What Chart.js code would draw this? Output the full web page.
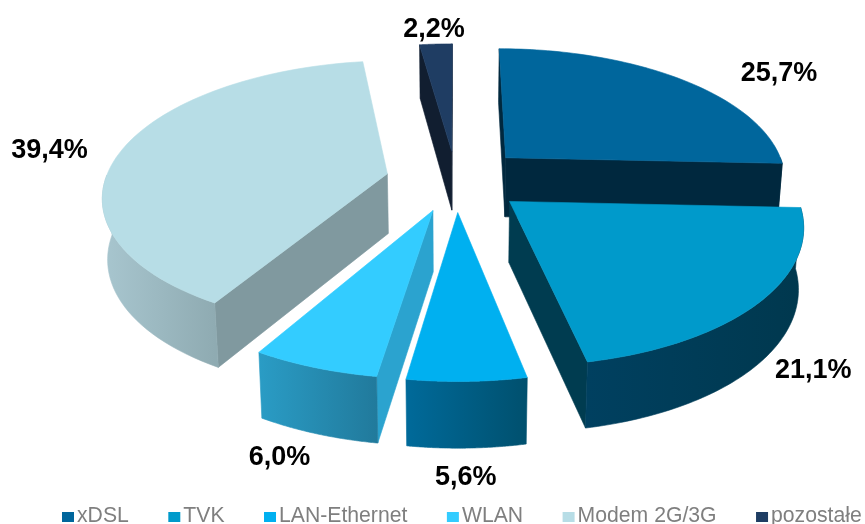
<!DOCTYPE html>
<html lang="pl">
<head>
<meta charset="utf-8">
<style>html,body{margin:0;padding:0;background:#fff}canvas{display:block}</style>
<script src="https://cdn.jsdelivr.net/npm/chart.js@4"></script>
</head>
<body>
<canvas id="c" width="865" height="524"></canvas>
<script>
const categories = ['xDSL', 'TVK', 'LAN-Ethernet', 'WLAN', 'Modem 2G/3G', 'pozostałe'];
const shares = [25.7, 21.1, 5.6, 6.0, 39.4, 2.2];
const valueLabels = ['25,7%', '21,1%', '5,6%', '6,0%', '39,4%', '2,2%'];

const topColors = ['#00669C', '#009ACB', '#00B0F0', '#33CCFF', '#B7DDE6', '#1F3D63'];
const cutColors = ['#00283E', '#003C50', '#004A66', '#2BA3CF', '#80999F', '#111E30'];
const rimLeft = ['#00283E', '#004060', '#006A9A', '#2A9CC5', '#A8C6CF', '#111E30'];
const rimRight = ['#00283E', '#00384E', '#00506E', '#217A9C', '#8FABB2', '#111E30'];
const sliceOffsets = [40, 39, 38, 38, 40, 36];
const labelShift = [[98, -6], [53, 69], [-1, 96], [-35, 90], [-73, 1], [-2, -15]];
const paintOrder = [5, 0, 4, 1, 3, 2];

const view = {halfWidth: 282, halfDepth: 132, persp: 0.153, height: 60, heightGrow: 0.09, taper: 0.015};
const canvas = document.getElementById('c');

function project(el, U, V, lower) {
  const w = 1 / (1 - view.persp * V);
  let x = view.halfWidth * U * w;
  let y = el.y + view.halfDepth * V * w;
  if (lower) {
    x *= 1 - view.taper;
    y += view.height * (1 + view.heightGrow * V);
  }
  return [el.x + x, y];
}
function slicePoint(el, angle, radius) {
  const R = el.outerRadius;
  const mid = (el.startAngle + el.endAngle) / 2;
  const off = el.options.offset / R;
  return [off * Math.cos(mid) + radius * Math.cos(angle), off * Math.sin(mid) + radius * Math.sin(angle)];
}
function poly(ctx, pts, fill) {
  ctx.beginPath();
  pts.forEach((p, i) => i ? ctx.lineTo(p[0], p[1]) : ctx.moveTo(p[0], p[1]));
  ctx.closePath();
  ctx.fillStyle = fill;
  ctx.strokeStyle = fill;
  ctx.lineWidth = 0.6;
  ctx.fill();
  ctx.stroke();
}
const pie3d = {
  id: 'pie3d',
  beforeDatasetsDraw(chart) {
    const ctx = chart.ctx;
    const arcs = chart.getDatasetMeta(0).data;
    paintOrder.forEach(i => {
      const el = arcs[i];
      const P = (a, r, low) => { const s = slicePoint(el, a, r); return project(el, s[0], s[1], low); };
      const steps = 72, rimT = [], rimB = [];
      for (let k = 0; k <= steps; k++) {
        const a = el.startAngle + (el.endAngle - el.startAngle) * k / steps;
        rimT.push(P(a, 1, false));
        rimB.push(P(a, 1, true));
      }
      const apexT = P(el.startAngle, 0, false), apexB = P(el.startAngle, 0, true);
      const cross = (t) => (t[0] - apexT[0]) * (apexB[1] - apexT[1]) - (t[1] - apexT[1]) * (apexB[0] - apexT[0]);
      // side faces
      if (cross(rimT[0]) < 0) poly(ctx, [apexT, rimT[0], rimB[0], apexB], cutColors[i]);
      if (cross(rimT[steps]) > 0) poly(ctx, [apexT, rimT[steps], rimB[steps], apexB], cutColors[i]);
      // outer wall
      const xs = rimT.map(p => p[0]);
      const front = [];
      for (let k = 0; k <= steps; k++) {
        const a = el.startAngle + (el.endAngle - el.startAngle) * k / steps;
        if (Math.sin(a) > -0.02) front.push(k);
      }
      if (front.length > 1) {
        const fx = front.map(k => xs[k]);
        const g = ctx.createLinearGradient(Math.min(...fx), 0, Math.max(...fx), 0);
        g.addColorStop(0, rimLeft[i]);
        g.addColorStop(1, rimRight[i]);
        poly(ctx, front.map(k => rimT[k]).concat(front.slice().reverse().map(k => rimB[k])), g);
      }
      // top face
      poly(ctx, [apexT].concat(rimT), topColors[i]);
    });
    // value labels
    ctx.font = 'bold 27px "Liberation Sans", Arial, sans-serif';
    ctx.fillStyle = '#000';
    ctx.textAlign = 'center';
    ctx.textBaseline = 'middle';
    arcs.forEach((el, i) => {
      const mid = (el.startAngle + el.endAngle) / 2;
      const s = slicePoint(el, mid, 1);
      const p = project(el, s[0], s[1], false);
      ctx.fillText(valueLabels[i], p[0] + labelShift[i][0], p[1] + labelShift[i][1]);
    });
    return false;
  },
  afterDraw(chart) {
    const ctx = chart.ctx;
    ctx.save();
    ctx.font = '21.2px "Liberation Sans", Arial, sans-serif';
    ctx.textAlign = 'left';
    ctx.textBaseline = 'alphabetic';
    let x = 62;
    categories.forEach((name, i) => {
      ctx.fillStyle = topColors[i];
      ctx.fillRect(x, 512, 12, 10);
      x += 15;
      ctx.fillStyle = '#7F7F7F';
      ctx.fillText(name, x, 522);
      x += ctx.measureText(name).width + 39.5;
    });
    ctx.restore();
  }
};

new Chart(canvas, {
  type: 'pie',
  data: {
    labels: categories,
    datasets: [{data: shares, backgroundColor: topColors, borderWidth: 0, offset: sliceOffsets}]
  },
  options: {
    responsive: false,
    animation: false,
    layout: {padding: {left: 47, right: 0, top: 0, bottom: 164}},
    plugins: {legend: {display: false}, tooltip: {enabled: false}}
  },
  plugins: [pie3d]
});
</script>
</body>
</html>
